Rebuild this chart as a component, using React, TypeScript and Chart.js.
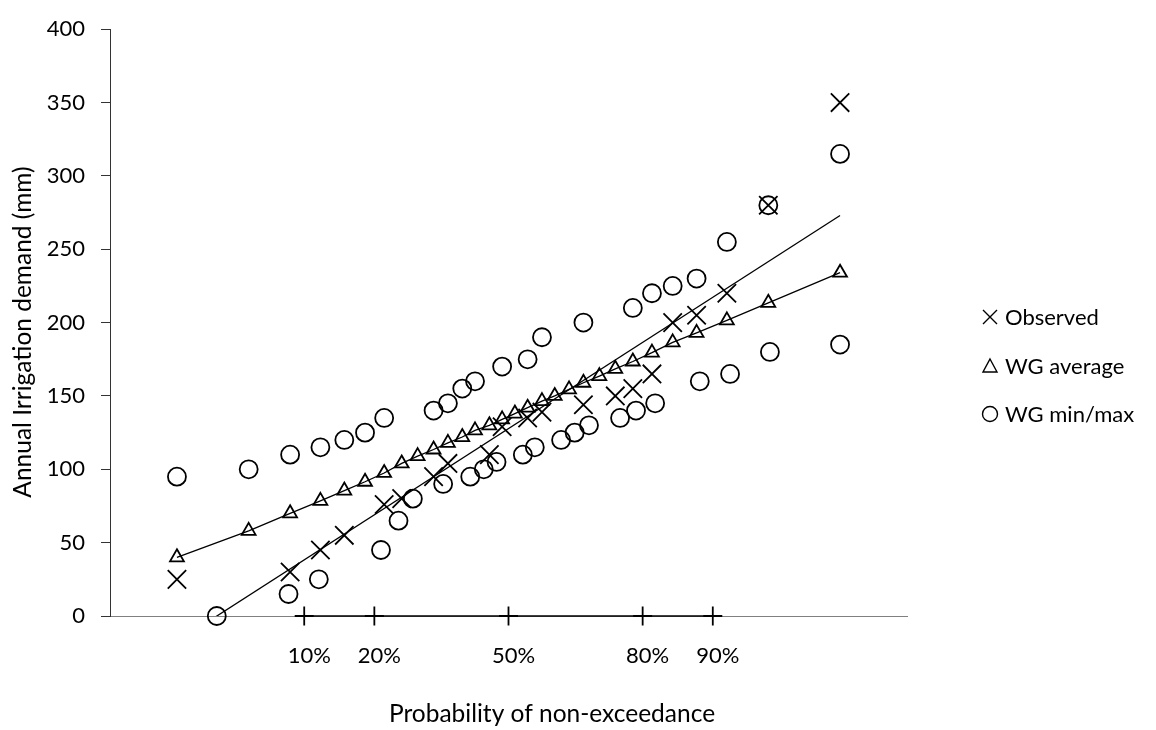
import React, { useEffect, useRef } from 'react';
import { Chart, registerables } from 'chart.js';

Chart.register(...registerables);

// x values are standard normal variates (probability plot)
const probTicks = [-1.2816, -0.8416, 0, 0.8416, 1.2816];
const probLabels = ['10%', '20%', '50%', '80%', '90%'];

const obsZ = [-2.08, -1.37, -1.18, -1.03, -0.78, -0.67, -0.47, -0.38, -0.12, -0.04, 0.12, 0.21, 0.47, 0.67, 0.78, 0.9, 1.03, 1.18, 1.37, 1.63, 2.08];
const obsValues = [25, 30, 45, 55, 76, 80, 95, 104, 110, 129, 135, 139, 144, 150, 155, 165, 200, 205, 220, 280, 350];

const wgAvgZ = [-2.08, -1.63, -1.37, -1.18, -1.03, -0.9, -0.78, -0.67, -0.57, -0.47, -0.38, -0.29, -0.21, -0.12, -0.04, 0.04, 0.12, 0.21, 0.29, 0.38, 0.47, 0.57, 0.67, 0.78, 0.9, 1.03, 1.18, 1.37, 1.63, 2.08];
const wgAvgValues = [40, 58, 70, 78.5, 85.5, 91.5, 97.5, 104, 109, 113.5, 118, 122, 126.5, 130, 134, 138, 142, 146.5, 150, 154.5, 159, 163.5, 168.5, 173.5, 179.5, 186.5, 193, 201.5, 213.5, 234];

const wgMaxZ = [-2.08, -1.63, -1.37, -1.18, -1.03, -0.9, -0.78, -0.47, -0.38, -0.29, -0.21, -0.04, 0.12, 0.21, 0.47, 0.78, 0.9, 1.03, 1.18, 1.37, 1.63, 2.08];
const wgMaxValues = [95, 100, 110, 115, 120, 125, 135, 140, 145, 155, 160, 170, 175, 190, 200, 210, 220, 225, 230, 255, 280, 315];

const wgMinZ = [-1.83, -1.38, -1.19, -0.8, -0.69, -0.6, -0.41, -0.24, -0.155, -0.075, 0.09, 0.165, 0.33, 0.415, 0.505, 0.7, 0.8, 0.92, 1.2, 1.39, 1.64, 2.08];
const wgMinValues = [0, 15, 25, 45, 65, 80, 90, 95, 100, 105, 110, 115, 120, 125, 130, 135, 140, 145, 160, 165, 180, 185];

// fitted line for observed values (ends of the line)
const obsFitZ = [-2.08, 2.08];
const obsFitValues = [-17.5, 273];

const legendItems = ['Observed', 'WG average', 'WG min/max'];

const FONT = 'Lato';
const toPoints = (xs: number[], ys: number[]) => xs.map((x, i) => ({ x, y: ys[i] }));

// axis titles and the legend, drawn where the original has them
const extras = {
  id: 'extras',
  afterDraw(chart: any) {
    const { ctx } = chart;
    ctx.save();
    ctx.fillStyle = '#000';
    ctx.strokeStyle = '#000';
    ctx.textBaseline = 'alphabetic';

    ctx.font = `24.5px ${FONT}`;
    ctx.textAlign = 'center';
    ctx.fillText('Probability of non-exceedance', 552, 722);

    ctx.save();
    ctx.translate(31, 332);
    ctx.rotate(-Math.PI / 2);
    ctx.fillText('Annual Irrigation demand (mm)', 0, 0);
    ctx.restore();

    ctx.font = `22px ${FONT}`;
    ctx.textAlign = 'left';
    ctx.lineWidth = 1.4;
    const rows = [317, 366, 414];
    legendItems.forEach((label, i) => {
      const cx = 990;
      const cy = rows[i];
      ctx.beginPath();
      if (i === 0) {
        ctx.moveTo(cx - 7, cy - 7);
        ctx.lineTo(cx + 7, cy + 7);
        ctx.moveTo(cx + 7, cy - 7);
        ctx.lineTo(cx - 7, cy + 7);
      } else if (i === 1) {
        ctx.moveTo(cx, cy - 7);
        ctx.lineTo(cx + 7, cy + 6);
        ctx.lineTo(cx - 7, cy + 6);
        ctx.closePath();
      } else {
        ctx.arc(cx, cy, 7.5, 0, Math.PI * 2);
      }
      ctx.stroke();
      ctx.fillText(label, 1005, cy + 8);
    });
    ctx.restore();
  },
};

const App: React.FC = () => {
  const canvasRef = useRef<HTMLCanvasElement>(null);

  useEffect(() => {
    if (!canvasRef.current) return;
    Chart.defaults.font.family = FONT;
    Chart.defaults.font.size = 22;
    Chart.defaults.color = '#000';

    const marker = {
      borderColor: '#000',
      backgroundColor: 'rgba(0,0,0,0)',
      pointBorderWidth: 1.8,
      showLine: false,
      clip: false as const,
    };

    const chart = new Chart(canvasRef.current, {
      type: 'scatter',
      data: {
        datasets: [
          {
            label: 'Observed fit',
            data: toPoints(obsFitZ, obsFitValues),
            showLine: true,
            pointRadius: 0,
            borderColor: '#000',
            borderWidth: 1.3,
          },
          {
            label: 'WG average',
            data: toPoints(wgAvgZ, wgAvgValues),
            ...marker,
            showLine: true,
            borderWidth: 1.3,
            pointStyle: 'triangle',
            pointRadius: 8,
          },
          {
            label: 'WG max',
            data: toPoints(wgMaxZ, wgMaxValues),
            ...marker,
            pointStyle: 'circle',
            pointRadius: 9,
          },
          {
            label: 'WG min',
            data: toPoints(wgMinZ, wgMinValues),
            ...marker,
            pointStyle: 'circle',
            pointRadius: 9,
          },
          {
            label: 'Observed',
            data: toPoints(obsZ, obsValues),
            ...marker,
            pointStyle: 'crossRot',
            pointRadius: 13,
          },
          {
            label: 'Probability',
            data: probTicks.map((x) => ({ x, y: 0 })),
            ...marker,
            showLine: true,
            borderWidth: 1.3,
            pointStyle: 'cross',
            pointRadius: 9.5,
          },
        ],
      },
      options: {
        animation: false,
        responsive: true,
        maintainAspectRatio: false,
        events: [],
        layout: { padding: { top: 24, right: 249, bottom: 0, left: 0 } },
        plugins: {
          legend: { display: false },
          tooltip: { enabled: false },
        },
        scales: {
          x: {
            type: 'linear',
            min: -2.5,
            max: 2.5,
            afterBuildTicks: (axis: any) => {
              axis.ticks = probTicks.map((value) => ({ value }));
            },
            afterFit: (axis: any) => {
              axis.height = 114;
            },
            ticks: {
              autoSkip: false,
              maxRotation: 0,
              padding: 27,
              labelOffset: 5,
              callback: (_v: any, i: number) => probLabels[i],
            },
            grid: { display: false, drawTicks: false },
            border: { display: true, color: '#808080', width: 1 },
          },
          y: {
            type: 'linear',
            min: 0,
            max: 400,
            afterFit: (axis: any) => {
              axis.width = 110;
            },
            ticks: { stepSize: 50, padding: 16 },
            grid: { drawOnChartArea: false, drawTicks: true, tickLength: 9, color: '#333' },
            border: { display: true, color: '#333', width: 1 },
          },
        },
      },
      plugins: [extras],
    });

    return () => chart.destroy();
  }, []);

  return (
    <div style={{ position: 'fixed', left: 0, top: 0, width: 1156, height: 730, background: '#fff' }}>
      <canvas ref={canvasRef} />
    </div>
  );
};

export default App;
